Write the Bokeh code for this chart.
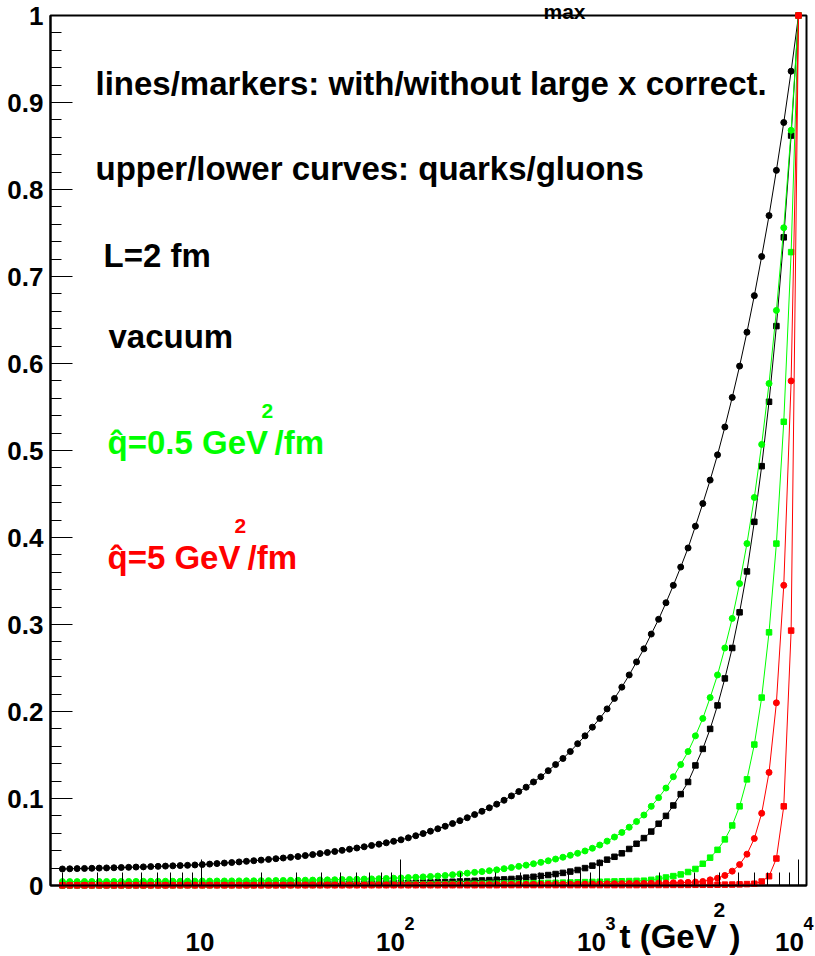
from bokeh.plotting import figure
from bokeh.models import (ColumnDataSource, Range1d, FixedTicker, Label,
                          NumeralTickFormatter, BoxAnnotation)
from bokeh.embed import file_html
from bokeh.resources import INLINE

FONT = "Liberation Sans"

# t grid (GeV^2), log spaced as in the reference markers
t = [2.000, 2.178, 2.371, 2.582, 2.812, 3.062, 3.334, 3.631, 3.953, 4.305,
     4.688, 5.104, 5.558, 6.052, 6.590, 7.176, 7.814, 8.509, 9.266, 10.09,
     10.99, 11.96, 13.03, 14.19, 15.45, 16.82, 18.31, 19.94, 21.72, 23.65,
     25.75, 28.04, 30.53, 33.24, 36.20, 39.42, 42.92, 46.74, 50.89, 55.42,
     60.35, 65.71, 71.56, 77.92, 84.84, 92.38, 100.6, 109.5, 119.3, 129.9,
     141.4, 154.0, 167.7, 182.6, 198.8, 216.5, 235.8, 256.7, 279.5, 304.4,
     331.4, 360.9, 393.0, 427.9, 465.9, 507.4, 552.5, 601.6, 655.0, 713.3,
     776.6, 845.7, 920.9, 1003, 1092, 1189, 1295, 1410, 1535, 1672,
     1820, 1982, 2158, 2350, 2559, 2787, 3034, 3304, 3598, 3918,
     4266, 4645, 5058, 5508, 5998, 6531, 7112, 7744, 8433, 9183, 10000]

# vacuum, quarks (black circles, upper)
vac_quark = [0.0190, 0.0192, 0.0194, 0.0196, 0.0198, 0.0200, 0.0202, 0.0204, 0.0207, 0.0209,
             0.0212, 0.0214, 0.0217, 0.0220, 0.0223, 0.0226, 0.0229, 0.0232, 0.0236, 0.0240,
             0.0246, 0.0252, 0.0258, 0.0264, 0.0271, 0.0278, 0.0285, 0.0292, 0.0300, 0.0308,
             0.0316, 0.0324, 0.0333, 0.0344, 0.0355, 0.0367, 0.0379, 0.0391, 0.0404, 0.0417,
             0.0431, 0.0445, 0.0460, 0.0475, 0.0491, 0.0508, 0.0525, 0.0548, 0.0572, 0.0597,
             0.0624, 0.0652, 0.0681, 0.0712, 0.0745, 0.0779, 0.0815, 0.0853, 0.0893, 0.0935,
             0.098, 0.103, 0.108, 0.113, 0.119, 0.125, 0.132, 0.139, 0.146, 0.154,
             0.163, 0.172, 0.182, 0.192, 0.203, 0.215, 0.228, 0.242, 0.257, 0.272,
             0.289, 0.306, 0.325, 0.345, 0.366, 0.388, 0.413, 0.439, 0.466, 0.495,
             0.527, 0.561, 0.597, 0.636, 0.678, 0.723, 0.770, 0.822, 0.877, 0.936, 1.0]

# vacuum, gluons (black squares, lower)
vac_gluon = [0.0004, 0.0004, 0.0004, 0.0005, 0.0005, 0.0005, 0.0005, 0.0005, 0.0006, 0.0006,
             0.0006, 0.0006, 0.0007, 0.0007, 0.0007, 0.0007, 0.0008, 0.0008, 0.0008, 0.0009,
             0.0009, 0.0010, 0.0010, 0.0011, 0.0011, 0.0012, 0.0012, 0.0013, 0.0013, 0.0014,
             0.0015, 0.0015, 0.0016, 0.0017, 0.0018, 0.0018, 0.0019, 0.0020, 0.0021, 0.0022,
             0.0023, 0.0024, 0.0025, 0.0026, 0.0027, 0.0028, 0.0030, 0.0031, 0.0033, 0.0034,
             0.0036, 0.0038, 0.0040, 0.0043, 0.0046, 0.0050, 0.0054, 0.0058, 0.0062, 0.0066,
             0.0070, 0.0075, 0.0080, 0.0090, 0.0100, 0.0110, 0.0120, 0.0132, 0.0145, 0.0160,
             0.0178, 0.0200, 0.0228, 0.0260, 0.0297, 0.0330, 0.0370, 0.0420, 0.0480, 0.0545,
             0.0620, 0.0710, 0.0800, 0.0920, 0.1050, 0.1190, 0.1380, 0.1570, 0.1800, 0.2070,
             0.238, 0.273, 0.314, 0.361, 0.418, 0.482, 0.556, 0.643, 0.745, 0.862, 1.0]

# qhat = 0.5 GeV^2/fm, quarks (green circles, upper)
q05_quark = [0.0045, 0.0045, 0.0045, 0.0046, 0.0046, 0.0046, 0.0046, 0.0047, 0.0047, 0.0047,
             0.0047, 0.0048, 0.0048, 0.0048, 0.0049, 0.0049, 0.0049, 0.0050, 0.0050, 0.0051,
             0.0051, 0.0052, 0.0052, 0.0053, 0.0053, 0.0054, 0.0054, 0.0055, 0.0056, 0.0057,
             0.0058, 0.0059, 0.0060, 0.0061, 0.0062, 0.0063, 0.0065, 0.0066, 0.0068, 0.0070,
             0.0072, 0.0074, 0.0076, 0.0078, 0.0081, 0.0084, 0.0087, 0.0091, 0.0095, 0.0099,
             0.0104, 0.0109, 0.0115, 0.0124, 0.0133, 0.0142, 0.0151, 0.0160, 0.0170, 0.0180,
             0.0193, 0.0206, 0.0220, 0.0234, 0.0250, 0.0266, 0.0284, 0.0304, 0.0325, 0.0347,
             0.0370, 0.0397, 0.0428, 0.0465, 0.0510, 0.0557, 0.0610, 0.0670, 0.0735, 0.0810,
             0.091, 0.101, 0.112, 0.125, 0.139, 0.154, 0.172, 0.192, 0.216, 0.242,
             0.273, 0.307, 0.347, 0.393, 0.446, 0.507, 0.577, 0.661, 0.756, 0.868, 1.0]

# qhat = 0.5 GeV^2/fm, gluons (green squares, lower)
q05_gluon = [0.0003, 0.0003, 0.0003, 0.0003, 0.0003, 0.0003, 0.0003, 0.0003, 0.0003, 0.0003,
             0.0003, 0.0003, 0.0004, 0.0004, 0.0004, 0.0004, 0.0004, 0.0004, 0.0004, 0.0004,
             0.0004, 0.0005, 0.0005, 0.0005, 0.0005, 0.0005, 0.0005, 0.0006, 0.0006, 0.0006,
             0.0006, 0.0006, 0.0007, 0.0007, 0.0007, 0.0007, 0.0008, 0.0008, 0.0008, 0.0009,
             0.0009, 0.0009, 0.0010, 0.0010, 0.0011, 0.0011, 0.0012, 0.0012, 0.0013, 0.0013,
             0.0014, 0.0015, 0.0015, 0.0016, 0.0017, 0.0018, 0.0019, 0.0020, 0.0021, 0.0022,
             0.0023, 0.0024, 0.0025, 0.0026, 0.0027, 0.0028, 0.0030, 0.0031, 0.0033, 0.0035,
             0.0037, 0.0039, 0.0041, 0.0043, 0.0045, 0.0047, 0.0049, 0.0051, 0.0053, 0.0055,
             0.0065, 0.0078, 0.0092, 0.0108, 0.0127, 0.0155, 0.0190, 0.0250, 0.0320, 0.0410,
             0.053, 0.069, 0.091, 0.122, 0.162, 0.216, 0.291, 0.393, 0.533, 0.728, 1.0]

# qhat = 5 GeV^2/fm, quarks (red circles, upper)
q5_quark = [0.0004, 0.0004, 0.0004, 0.0004, 0.0004, 0.0004, 0.0004, 0.0004, 0.0004, 0.0004,
            0.0004, 0.0004, 0.0004, 0.0004, 0.0004, 0.0005, 0.0005, 0.0005, 0.0005, 0.0005,
            0.0005, 0.0005, 0.0005, 0.0005, 0.0005, 0.0005, 0.0005, 0.0005, 0.0005, 0.0005,
            0.0005, 0.0005, 0.0005, 0.0006, 0.0006, 0.0006, 0.0006, 0.0006, 0.0006, 0.0006,
            0.0006, 0.0006, 0.0007, 0.0007, 0.0007, 0.0007, 0.0007, 0.0007, 0.0008, 0.0008,
            0.0008, 0.0008, 0.0008, 0.0009, 0.0009, 0.0009, 0.0009, 0.0010, 0.0010, 0.0010,
            0.0011, 0.0011, 0.0011, 0.0012, 0.0012, 0.0013, 0.0013, 0.0014, 0.0014, 0.0015,
            0.0016, 0.0016, 0.0017, 0.0018, 0.0019, 0.0020, 0.0021, 0.0022, 0.0023, 0.0024,
            0.0025, 0.0027, 0.0029, 0.0031, 0.0033, 0.0036, 0.0040, 0.0046, 0.0065, 0.0084,
            0.0115, 0.0165, 0.024, 0.036, 0.054, 0.083, 0.130, 0.210, 0.345, 0.580, 1.0]

# qhat = 5 GeV^2/fm, gluons (red squares, lower)
q5_gluon = [0.0003, 0.0003, 0.0003, 0.0003, 0.0003, 0.0003, 0.0003, 0.0003, 0.0003, 0.0003,
            0.0003, 0.0003, 0.0003, 0.0003, 0.0003, 0.0003, 0.0003, 0.0003, 0.0003, 0.0003,
            0.0003, 0.0003, 0.0003, 0.0003, 0.0003, 0.0003, 0.0003, 0.0003, 0.0003, 0.0003,
            0.0004, 0.0004, 0.0004, 0.0004, 0.0004, 0.0004, 0.0004, 0.0004, 0.0004, 0.0004,
            0.0004, 0.0004, 0.0004, 0.0004, 0.0004, 0.0004, 0.0004, 0.0004, 0.0004, 0.0004,
            0.0004, 0.0004, 0.0004, 0.0004, 0.0004, 0.0004, 0.0004, 0.0004, 0.0004, 0.0004,
            0.0005, 0.0005, 0.0005, 0.0005, 0.0005, 0.0005, 0.0005, 0.0005, 0.0005, 0.0005,
            0.0005, 0.0005, 0.0005, 0.0005, 0.0005, 0.0005, 0.0005, 0.0005, 0.0005, 0.0005,
            0.0006, 0.0006, 0.0006, 0.0007, 0.0007, 0.0007, 0.0008, 0.0008, 0.0008, 0.0009,
            0.0010, 0.0011, 0.0013, 0.0016, 0.0020, 0.0046, 0.0107, 0.031, 0.091, 0.293, 1.0]

x_major = [10, 100, 1000, 10000]
x_minor = [2, 3, 4, 5, 6, 7, 8, 9, 20, 30, 40, 50, 60, 70, 80, 90,
           200, 300, 400, 500, 600, 700, 800, 900, 2000, 3000, 4000, 5000, 6000, 7000, 8000, 9000]
x_tick_exponents = ["", "2", "3", "4"]
y_major = [0, 0.1, 0.2, 0.3, 0.4, 0.5, 0.6, 0.7, 0.8, 0.9, 1.0]
y_minor = [0.02, 0.04, 0.06, 0.08, 0.12, 0.14, 0.16, 0.18, 0.22, 0.24, 0.26, 0.28,
           0.32, 0.34, 0.36, 0.38, 0.42, 0.44, 0.46, 0.48, 0.52, 0.54, 0.56, 0.58,
           0.62, 0.64, 0.66, 0.68, 0.72, 0.74, 0.76, 0.78, 0.82, 0.84, 0.86, 0.88,
           0.92, 0.94, 0.96, 0.98]

# axis box limits (data units)
T_MIN, T_MAX = 1.742, 10970
Y_MIN, Y_MAX = 0.0, 1.0

GREEN = "#00ff00"
RED = "#ff0000"
BLACK = "#000000"

W, H = 815, 956


# page pixel -> data helpers (the plot frame covers the whole canvas)
def tx(px):
    return 10 ** ((px - 2) / 199.0)


def ty(py):
    return (885 - py) / 870.0


p = figure(width=W, height=H, x_axis_type="log",
           x_range=Range1d(tx(0), tx(W)), y_range=Range1d(ty(H), ty(0)),
           output_backend="svg", toolbar_location=None,
           min_border=0, min_border_left=0, min_border_right=0,
           min_border_top=0, min_border_bottom=0)
p.background_fill_color = "white"
p.border_fill_color = "white"
p.outline_line_color = None
p.xgrid.visible = False
p.ygrid.visible = False

# frame box
p.add_layout(BoxAnnotation(left=T_MIN, right=T_MAX, bottom=Y_MIN, top=Y_MAX,
                           fill_color=None, fill_alpha=0, line_color="black",
                           line_alpha=1.0, line_width=2, level="underlay"))

xa = p.xaxis[0]
xa.fixed_location = Y_MIN
xa.bounds = (T_MIN, T_MAX)
xa.ticker = FixedTicker(ticks=x_major, minor_ticks=x_minor)
xa.major_label_overrides = {v: "" for v in x_major}
xa.major_label_text_font_size = "1px"
xa.axis_line_width = 2
xa.major_tick_in = 26
xa.major_tick_out = 0
xa.minor_tick_in = 13
xa.minor_tick_out = 0
xa.major_tick_line_color = "black"
xa.minor_tick_line_color = "black"
xa.axis_line_color = "black"

ya = p.yaxis[0]
ya.fixed_location = T_MIN
ya.bounds = (Y_MIN, Y_MAX)
ya.ticker = FixedTicker(ticks=y_major, minor_ticks=y_minor)
ya.formatter = NumeralTickFormatter(format="0.[0]")
ya.axis_line_width = 2
ya.axis_line_color = "black"
ya.major_tick_in = 22
ya.major_tick_out = 0
ya.minor_tick_in = 11
ya.minor_tick_out = 0
ya.major_tick_line_color = "black"
ya.minor_tick_line_color = "black"
ya.major_label_standoff = 7
ya.major_label_text_font = FONT
ya.major_label_text_font_style = "bold"
ya.major_label_text_font_size = "26px"
ya.major_label_text_color = "black"

series = [
    (vac_quark, BLACK, "circle", 6),
    (vac_gluon, BLACK, "square", 5.5),
    (q05_quark, GREEN, "circle", 6),
    (q05_gluon, GREEN, "square", 5.5),
    (q5_quark, RED, "circle", 6),
    (q5_gluon, RED, "square", 5.5),
]
for yvals, col, mk, sz in series:
    src = ColumnDataSource(dict(t=t, y=yvals))
    p.line("t", "y", source=src, line_color=col, line_width=1)
    p.scatter("t", "y", source=src, marker=mk, size=sz, fill_color=col, line_color=col)


def add_text(px, py, text, size, color=BLACK, align="left"):
    p.add_layout(Label(x=tx(px), y=ty(py), text=text, text_font=FONT,
                       text_font_style="bold", text_font_size=size,
                       text_color=color, text_align=align,
                       text_baseline="alphabetic"))


# x tick labels (10, 10^2, 10^3, 10^4)
base_centers = [199.5, 390, 591, 789]
exp_lefts = [None, 404, 605, 803]
for xc, ex_left, ex in zip(base_centers, exp_lefts, x_tick_exponents):
    add_text(xc, 941, "10", "26px", align="center")
    if ex:
        add_text(ex_left, 923, ex, "18px")

# axis title t (GeV^2)
add_text(619, 936, "t (GeV", "33px")
add_text(713, 909, "2", "21px")
add_text(729, 936, ")", "33px")

# title fragment cut at the top edge
add_text(543, 11, "max", "21px")

# annotations
add_text(95, 83, "lines/markers: with/without large x correct.", "33px")
add_text(95, 168, "upper/lower curves: quarks/gluons", "33px")
add_text(103, 255, "L=2 fm", "33px")
add_text(108, 336, "vacuum", "33px")
add_text(107, 442, "q\u0302=0.5 GeV", "33px", GREEN)
add_text(261, 410, "2", "21px", GREEN)
add_text(274, 442, "/fm", "33px", GREEN)
add_text(107, 557, "q\u0302=5 GeV", "33px", RED)
add_text(234, 525, "2", "21px", RED)
add_text(247, 557, "/fm", "33px", RED)

open("out.html", "w").write(file_html(p, INLINE))
